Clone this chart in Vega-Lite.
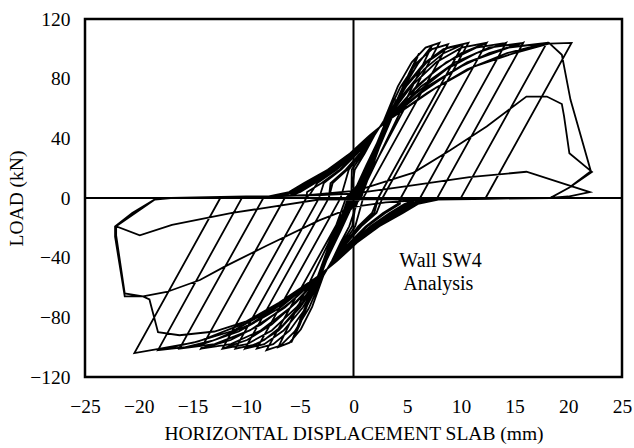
{
  "$schema": "https://vega.github.io/schema/vega-lite/v6.json",
  "width": 537,
  "height": 358,
  "autosize": {"type": "none"},
  "padding": {"left": 85, "top": 19, "right": 12, "bottom": 71},
  "background": "white",
  "config": {
    "view": {"stroke": "black", "strokeWidth": 2.5},
    "font": "Liberation Serif"
  },
  "layer": [
    {
      "data": {"values": [
        {"x":0,"y":0},{"x":0.5,"y":9},{"x":1,"y":17},{"x":0.15,"y":0},{"x":-0.3,"y":-4},{"x":-0.7,"y":-11},{"x":-1,"y":-17},{"x":-0.15,"y":0},{"x":0.3,"y":4},{"x":0.7,"y":11},
        {"x":1.2,"y":20},{"x":2,"y":34},{"x":0.3,"y":0},{"x":-0.5,"y":-7},{"x":-1.3,"y":-21},{"x":-2,"y":-34},{"x":-0.3,"y":0},{"x":0.5,"y":7},{"x":1.3,"y":21},
        {"x":2.2,"y":37},{"x":3,"y":51},{"x":0.5,"y":0},{"x":-0.7,"y":-10},{"x":-1.9,"y":-30},{"x":-3,"y":-51},{"x":-0.5,"y":0},{"x":0.7,"y":10},{"x":1.9,"y":30},
        {"x":3,"y":49},{"x":3.5,"y":58},{"x":4,"y":66},{"x":0.7,"y":0},{"x":-0.8,"y":-12},{"x":-2.3,"y":-35},{"x":-3.3,"y":-54},{"x":-4,"y":-66},{"x":-0.7,"y":0},{"x":0.8,"y":12},{"x":2.3,"y":35},{"x":3.3,"y":54},
        {"x":4.2,"y":68},{"x":5,"y":80},{"x":0.3,"y":0},{"x":-0.8,"y":-14},{"x":-2,"y":-33},{"x":-3,"y":-50},{"x":-4,"y":-66},{"x":-5,"y":-82},{"x":-0.3,"y":0},{"x":0.8,"y":14},{"x":2,"y":33},{"x":3,"y":50},{"x":4,"y":65},
        {"x":5.2,"y":84},{"x":6.1,"y":97},{"x":0.4,"y":0},{"x":-0.3,"y":-8},{"x":-1.2,"y":-22},{"x":-2.2,"y":-37},{"x":-3.2,"y":-52},{"x":-4.2,"y":-70},{"x":-5,"y":-85},{"x":-5.8,"y":-97},
        {"x":-0.4,"y":0},{"x":0.3,"y":8},{"x":1.2,"y":22},{"x":2.2,"y":37},{"x":3.3,"y":54},{"x":4.5,"y":72},{"x":6,"y":90},{"x":7.3,"y":102},
        {"x":0.5,"y":0},{"x":-0.4,"y":-19},{"x":-1.2,"y":-30},{"x":-2,"y":-42},{"x":-2.8,"y":-52},{"x":-3.85,"y":-73},{"x":-4.9,"y":-88},{"x":-5.95,"y":-97},{"x":-7,"y":-100},
        {"x":-0.3,"y":0},{"x":0.12,"y":19},{"x":1.05,"y":30},{"x":1.95,"y":42},{"x":2.84,"y":52},{"x":4.13,"y":74.8},{"x":5.42,"y":91},{"x":6.71,"y":100.8},{"x":8,"y":104},
        {"x":0.3,"y":0},{"x":-0.12,"y":-19},{"x":-1.05,"y":-30},{"x":-1.95,"y":-42},{"x":-2.84,"y":-52},{"x":-4.16,"y":-73.9},{"x":-5.47,"y":-89.5},{"x":-6.79,"y":-98.9},{"x":-8.1,"y":-102},
        {"x":-0.2,"y":0},{"x":-0.16,"y":19},{"x":0.9,"y":30},{"x":1.9,"y":42},{"x":2.88,"y":52},{"x":4.36,"y":74.3},{"x":5.84,"y":90.3},{"x":7.32,"y":99.8},{"x":8.8,"y":103},
        {"x":0.9,"y":0},{"x":0.16,"y":-19},{"x":-0.9,"y":-30},{"x":-1.9,"y":-42},{"x":-2.88,"y":-52},{"x":-4.41,"y":-73.4},{"x":-5.94,"y":-88.8},{"x":-7.47,"y":-98},{"x":-9,"y":-101},
        {"x":-1.2,"y":0},{"x":-0.44,"y":19},{"x":0.75,"y":30},{"x":1.85,"y":42},{"x":2.92,"y":52},{"x":4.74,"y":74.3},{"x":6.56,"y":90.3},{"x":8.38,"y":99.8},{"x":10.2,"y":103},
        {"x":2.3,"y":0},{"x":1.73,"y":-10},{"x":0.44,"y":-19},{"x":-0.75,"y":-30},{"x":-1.85,"y":-42},{"x":-2.92,"y":-52},{"x":-4.72,"y":-73.4},{"x":-6.51,"y":-88.8},{"x":-8.31,"y":-98},{"x":-10.1,"y":-101},
        {"x":-2.3,"y":0},{"x":-1.94,"y":10},{"x":-0.58,"y":19},{"x":0.68,"y":30},{"x":1.83,"y":42},{"x":2.94,"y":52},{"x":4.76,"y":70.6},{"x":6.57,"y":86.3},{"x":8.39,"y":97.1},{"x":10.2,"y":103},
        {"x":2.3,"y":0},{"x":1.94,"y":-10},{"x":0.58,"y":-19},{"x":-0.68,"y":-30},{"x":-1.83,"y":-42},{"x":-2.94,"y":-52},{"x":-4.73,"y":-69.9},{"x":-6.52,"y":-84.9},{"x":-8.31,"y":-95.2},{"x":-10.1,"y":-101},
        {"x":-2.3,"y":0},{"x":-2.14,"y":10},{"x":-0.72,"y":19},{"x":0.6,"y":30},{"x":1.8,"y":42},{"x":2.96,"y":52},{"x":4.9,"y":74.8},{"x":6.83,"y":91},{"x":8.77,"y":100.8},{"x":10.7,"y":104},
        {"x":2.7,"y":0},{"x":2.14,"y":-10},{"x":0.72,"y":-19},{"x":-0.6,"y":-30},{"x":-1.8,"y":-42},{"x":-2.96,"y":-52},{"x":-4.97,"y":-73.4},{"x":-6.98,"y":-88.8},{"x":-8.99,"y":-98},{"x":-11,"y":-101},
        {"x":-3.2,"y":0},{"x":-2.76,"y":10},{"x":-1.14,"y":19},{"x":0.38,"y":30},{"x":1.73,"y":42},{"x":3.02,"y":52},{"x":5.37,"y":74.8},{"x":7.71,"y":91},{"x":10.06,"y":100.8},{"x":12.4,"y":104},
        {"x":4.4,"y":0},{"x":4.11,"y":-4},{"x":2.76,"y":-10},{"x":1.14,"y":-19},{"x":-0.38,"y":-30},{"x":-1.73,"y":-42},{"x":-3.02,"y":-52},{"x":-5.32,"y":-73.4},{"x":-7.61,"y":-88.8},{"x":-9.91,"y":-98},{"x":-12.2,"y":-101},
        {"x":-4.4,"y":0},{"x":-4.32,"y":4},{"x":-2.96,"y":10},{"x":-1.28,"y":19},{"x":0.3,"y":30},{"x":1.7,"y":42},{"x":3.04,"y":52},{"x":5.38,"y":70.6},{"x":7.72,"y":86.3},{"x":10.06,"y":97.1},{"x":12.4,"y":104},
        {"x":4.4,"y":0},{"x":4.32,"y":-4},{"x":2.96,"y":-10},{"x":1.28,"y":-19},{"x":-0.3,"y":-30},{"x":-1.7,"y":-42},{"x":-3.04,"y":-52},{"x":-5.33,"y":-69.9},{"x":-7.62,"y":-84.9},{"x":-9.91,"y":-95.2},{"x":-12.2,"y":-101},
        {"x":-4.4,"y":0},{"x":-4,"y":3},{"x":-3.37,"y":10},{"x":-1.56,"y":19},{"x":0.15,"y":30},{"x":1.65,"y":42},{"x":3.08,"y":52},{"x":5.86,"y":74.8},{"x":8.64,"y":91},{"x":11.42,"y":100.8},{"x":14.2,"y":104},
        {"x":6.2,"y":0},{"x":4.74,"y":-4},{"x":3.37,"y":-10},{"x":1.56,"y":-19},{"x":-0.15,"y":-30},{"x":-1.65,"y":-42},{"x":-3.08,"y":-52},{"x":-5.86,"y":-73.4},{"x":-8.64,"y":-88.8},{"x":-11.42,"y":-98},{"x":-14.2,"y":-101},
        {"x":-6.4,"y":0},{"x":-4.95,"y":4},{"x":-3.58,"y":10},{"x":-1.7,"y":19},{"x":0.08,"y":30},{"x":1.63,"y":42},{"x":3.1,"y":52},{"x":5.88,"y":70.6},{"x":8.65,"y":86.3},{"x":11.43,"y":97.1},{"x":14.2,"y":104},
        {"x":6.2,"y":0},{"x":4.95,"y":-4},{"x":3.58,"y":-10},{"x":1.7,"y":-19},{"x":-0.08,"y":-30},{"x":-1.63,"y":-42},{"x":-3.1,"y":-52},{"x":-5.88,"y":-69.9},{"x":-8.65,"y":-84.9},{"x":-11.43,"y":-95.2},{"x":-14.2,"y":-101},
        {"x":-6.4,"y":0},{"x":-5.16,"y":4},{"x":-3.78,"y":10},{"x":-1.84,"y":19},{"x":0,"y":30},{"x":1.6,"y":42},{"x":3.12,"y":52},{"x":6.29,"y":74.8},{"x":9.46,"y":91},{"x":12.63,"y":100.8},{"x":15.8,"y":104},
        {"x":7.8,"y":0},{"x":7,"y":-1},{"x":5.16,"y":-4},{"x":3.78,"y":-10},{"x":1.84,"y":-19},{"x":0,"y":-30},{"x":-1.6,"y":-42},{"x":-3.12,"y":-52},{"x":-6.39,"y":-73.4},{"x":-9.66,"y":-88.8},{"x":-12.93,"y":-98},{"x":-16.2,"y":-101},
        {"x":-8.4,"y":0},{"x":-7.25,"y":1},{"x":-5.37,"y":4},{"x":-3.99,"y":10},{"x":-1.98,"y":19},{"x":-0.08,"y":30},{"x":1.58,"y":42},{"x":3.14,"y":52},{"x":6.31,"y":70.6},{"x":9.47,"y":86.3},{"x":12.64,"y":97.1},{"x":15.8,"y":104},
        {"x":7.8,"y":0},{"x":7.25,"y":-1},{"x":5.37,"y":-4},{"x":3.99,"y":-10},{"x":1.98,"y":-19},{"x":0.08,"y":-30},{"x":-1.58,"y":-42},{"x":-3.14,"y":-52},{"x":-6.41,"y":-69.9},{"x":-9.67,"y":-84.9},{"x":-12.94,"y":-95.2},{"x":-16.2,"y":-101},
        {"x":-8.4,"y":0},{"x":-7.5,"y":1},{"x":-5.58,"y":4},{"x":-4.19,"y":10},{"x":-2.12,"y":19},{"x":-0.15,"y":30},{"x":1.55,"y":42},{"x":3.16,"y":52},{"x":6.87,"y":74.8},{"x":10.58,"y":91},{"x":14.29,"y":100.8},{"x":18,"y":104},
        {"x":10,"y":0},{"x":7.5,"y":-1},{"x":5.58,"y":-4},{"x":4.19,"y":-10},{"x":2.12,"y":-19},{"x":0.15,"y":-30},{"x":-1.55,"y":-42},{"x":-3.16,"y":-52},{"x":-6.92,"y":-73.9},{"x":-10.68,"y":-89.5},{"x":-14.44,"y":-98.9},{"x":-18.2,"y":-102},
        {"x":-10.4,"y":0},{"x":-7.75,"y":1},{"x":-5.8,"y":4},{"x":-4.4,"y":10},{"x":-2.26,"y":19},{"x":-0.22,"y":30},{"x":1.53,"y":42},{"x":3.18,"y":52},{"x":6.89,"y":70.6},{"x":10.59,"y":86.3},{"x":14.3,"y":97.1},{"x":18,"y":104},
        {"x":10,"y":0},{"x":7.75,"y":-1},{"x":5.8,"y":-4},{"x":4.4,"y":-10},{"x":2.26,"y":-19},{"x":0.22,"y":-30},{"x":-1.53,"y":-42},{"x":-3.18,"y":-52},{"x":-6.94,"y":-70.2},{"x":-10.69,"y":-85.6},{"x":-14.45,"y":-96.2},{"x":-18.2,"y":-102},
        {"x":-10.4,"y":0},{"x":-8,"y":1},{"x":-6,"y":4},{"x":-4.6,"y":10},{"x":-2.4,"y":19},{"x":-0.3,"y":30},{"x":1.5,"y":42},{"x":3.2,"y":52},{"x":7.7,"y":74},{"x":11.2,"y":88},{"x":14.9,"y":97},{"x":18.2,"y":103.5},{"x":20.3,"y":104},
        {"x":12.3,"y":0},{"x":8,"y":-1},{"x":6,"y":-4},{"x":4.6,"y":-10},{"x":2.4,"y":-19},{"x":0.3,"y":-30},{"x":-1.5,"y":-42},{"x":-3.2,"y":-52},{"x":-7.7,"y":-75},{"x":-11.2,"y":-89},{"x":-14.9,"y":-97},{"x":-18,"y":-101},{"x":-20.4,"y":-104},
        {"x":-12.4,"y":0},{"x":-7.75,"y":1},{"x":-5.8,"y":4},{"x":-4.4,"y":10},{"x":-2.26,"y":19},{"x":-0.22,"y":30},{"x":1.53,"y":42},{"x":3.18,"y":52},{"x":6.94,"y":74.8},{"x":10.69,"y":91},{"x":14.45,"y":100.8},{"x":18.2,"y":104},
        {"x":19.4,"y":96},{"x":20.2,"y":66},{"x":22.1,"y":18},{"x":20.1,"y":7},{"x":18.3,"y":0},
        {"x":7.75,"y":-1},{"x":5.8,"y":-4},{"x":4.4,"y":-10},{"x":2.26,"y":-19},{"x":0.22,"y":-30},{"x":-1.53,"y":-42},{"x":-3.18,"y":-52},{"x":-6.44,"y":-69.5},{"x":-9.69,"y":-82},{"x":-12.95,"y":-89.5},{"x":-16.2,"y":-92},
        {"x":-18.2,"y":-90},{"x":-19,"y":-68},{"x":-19.6,"y":-66},{"x":-21.3,"y":-66},{"x":-22.2,"y":-26},{"x":-22.2,"y":-19},{"x":-20.6,"y":-10},{"x":-18.5,"y":-1},{"x":-17,"y":0},
        {"x":-10,"y":0.5},{"x":-4,"y":2},{"x":0.3,"y":5},{"x":5.6,"y":17},{"x":9,"y":32},{"x":12.4,"y":48},{"x":16.1,"y":68},{"x":18,"y":68},{"x":19.4,"y":63},{"x":19.6,"y":55},{"x":20.1,"y":30},{"x":22.2,"y":17.5},{"x":20.1,"y":7},{"x":18.3,"y":0},
        {"x":7,"y":-1},{"x":3,"y":-3},{"x":0,"y":-6},{"x":-3.2,"y":-15},{"x":-8.1,"y":-32},{"x":-12,"y":-46},{"x":-14.3,"y":-55},{"x":-17.4,"y":-63},{"x":-19.6,"y":-66},{"x":-21.3,"y":-64},{"x":-22.1,"y":-25},{"x":-22.1,"y":-19},{"x":-20.6,"y":-10},{"x":-18.5,"y":-1},{"x":-17,"y":0},
        {"x":-10,"y":1},{"x":-3,"y":2},{"x":0,"y":3},{"x":5,"y":8},{"x":10.8,"y":14},{"x":16.1,"y":17.6},{"x":22,"y":4},{"x":20,"y":1},{"x":18.3,"y":0},
        {"x":10,"y":-0.5},{"x":-3.2,"y":-1},{"x":-11.3,"y":-10},{"x":-16.9,"y":-18},{"x":-19.9,"y":-25},{"x":-22.1,"y":-19},{"x":-18.5,"y":-1},{"x":-17,"y":0}
      ]},
      "mark": {"type": "line", "color": "black", "strokeWidth": 1.8, "clip": true},
      "encoding": {
        "x": {
          "field": "x", "type": "quantitative",
          "scale": {"domain": [-25, 25], "nice": false, "zero": false},
          "axis": {
            "values": [-25, -20, -15, -10, -5, 0, 5, 10, 15, 20, 25],
            "title": "HORIZONTAL DISPLACEMENT SLAB (mm)",
            "grid": false, "ticks": false, "domain": false,
            "labelFont": "Liberation Serif", "titleFont": "Liberation Serif",
            "labelFontSize": 19.5, "titleFontSize": 19.5, "titleFontWeight": "normal",
            "labelColor": "black", "titleColor": "black",
            "labelPadding": 20, "titlePadding": 9, "labelFlush": false, "labelOverlap": false
          }
        },
        "y": {
          "field": "y", "type": "quantitative",
          "scale": {"domain": [-120, 120], "nice": false, "zero": false},
          "axis": {
            "values": [-120, -80, -40, 0, 40, 80, 120],
            "title": "LOAD (kN)",
            "grid": false, "ticks": false, "domain": false,
            "labelFont": "Liberation Serif", "titleFont": "Liberation Serif",
            "labelFontSize": 19.5, "titleFontSize": 19.5, "titleFontWeight": "normal",
            "labelColor": "black", "titleColor": "black",
            "labelPadding": 15, "titlePadding": 3, "labelFlush": false, "labelOverlap": false
          }
        },
        "order": {"value": null}
      }
    },
    {
      "data": {"values": [{}]},
      "mark": {"type": "rule", "color": "black", "strokeWidth": 2},
      "encoding": {"x": {"datum": 0}}
    },
    {
      "data": {"values": [{}]},
      "mark": {"type": "rule", "color": "black", "strokeWidth": 2},
      "encoding": {"y": {"datum": 0}}
    },
    {
      "data": {"values": [{}]},
      "mark": {"type": "text", "font": "Liberation Serif", "fontSize": 20, "color": "black", "align": "center", "baseline": "middle"},
      "encoding": {"x": {"datum": 8.1}, "y": {"datum": -42}, "text": {"value": "Wall SW4"}}
    },
    {
      "data": {"values": [{}]},
      "mark": {"type": "text", "font": "Liberation Serif", "fontSize": 20, "color": "black", "align": "center", "baseline": "middle"},
      "encoding": {"x": {"datum": 7.9}, "y": {"datum": -57.5}, "text": {"value": "Analysis"}}
    }
  ]
}
